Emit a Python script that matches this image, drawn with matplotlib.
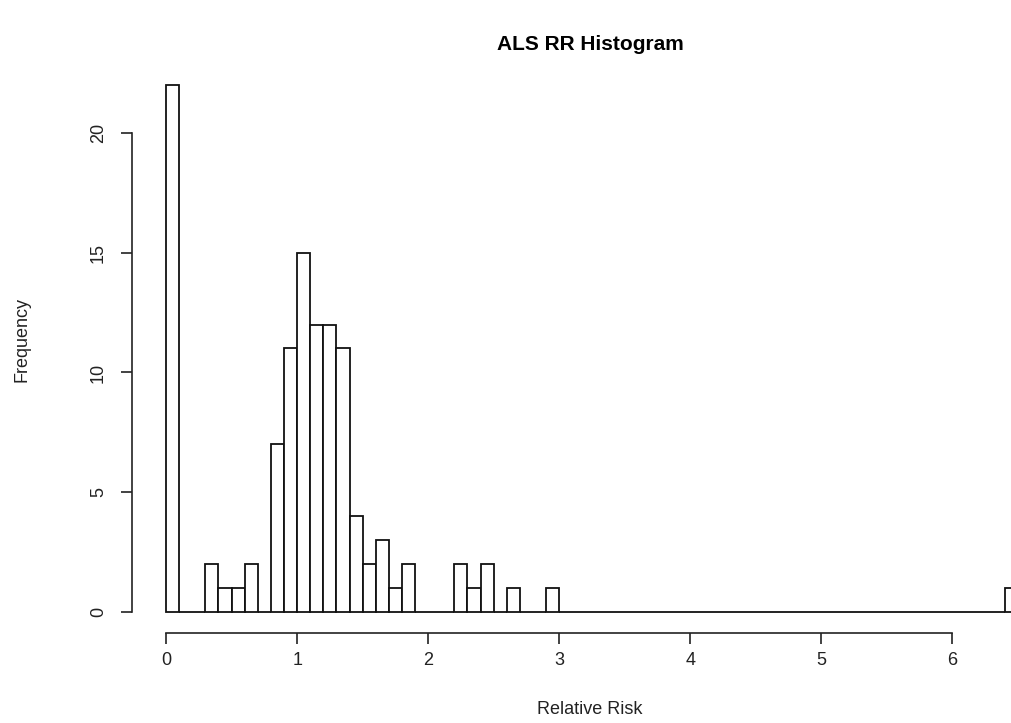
import numpy as np
import matplotlib
matplotlib.use("Agg")
import matplotlib.pyplot as plt

plt.rcParams['font.family'] = ['Liberation Sans', 'DejaVu Sans']

title = "ALS RR Histogram"
xlabel = "Relative Risk"
ylabel = "Frequency"
bin_width = 0.1
bin_start = 0.0
counts = [22, 0, 0, 2, 1, 1, 2, 0, 7, 11,
          15, 12, 12, 11, 4, 2, 3, 1, 2, 0,
          0, 0, 2, 1, 2, 0, 1, 0, 0, 1,
          0, 0, 0, 0, 0, 0, 0, 0, 0, 0,
          0, 0, 0, 0, 0, 0, 0, 0, 0, 0,
          0, 0, 0, 0, 0, 0, 0, 0, 0, 0,
          0, 0, 0, 0, 1]
xticks = [0, 1, 2, 3, 4, 5, 6]
yticks = [0, 5, 10, 15, 20]

W, H = 1011, 723
fig = plt.figure(figsize=(W / 100, H / 100), dpi=100)
ax = fig.add_axes([132 / W, 1 - 633 / H, 920 / W, (633 - 64) / H])

edges = bin_start + bin_width * np.arange(len(counts))
ax.bar(edges, counts, width=bin_width, align='edge', color='white',
       edgecolor='#111111', linewidth=1.3)

xmax = edges[-1] + bin_width
pad_x = 0.04 * xmax
ax.set_xlim(-pad_x, xmax + pad_x)
ymax = max(counts)
ax.set_ylim(-0.04 * ymax, ymax * 1.04)

for s in ['top', 'right']:
    ax.spines[s].set_visible(False)
ax.spines['left'].set_bounds(yticks[0], yticks[-1])
ax.spines['bottom'].set_bounds(xticks[0], xticks[-1])
for s in ['left', 'bottom']:
    ax.spines[s].set_linewidth(1.2)
    ax.spines[s].set_color('#222222')

ax.set_xticks(xticks)
ax.set_yticks(yticks)
ax.tick_params(axis='both', direction='out', length=8, width=1.2,
               color='#222222', labelsize=13, labelcolor='#222222')
ax.tick_params(axis='x', pad=6)
ax.tick_params(axis='y', pad=10)
for lab in ax.get_yticklabels():
    lab.set_rotation(90)
    lab.set_va('center')

fig.text(590 / W, 1 - 710 / H, xlabel, ha='center', va='center',
         fontsize=13, color='#222222')
fig.text(22 / W, 1 - 340 / H, ylabel, ha='center', va='center',
         rotation=90, fontsize=13, color='#222222')
fig.text(590 / W, 1 - 45 / H, title, ha='center', va='center',
         fontsize=15, fontweight='bold', color='black')

fig.savefig("out.png", dpi=100, facecolor='white')
